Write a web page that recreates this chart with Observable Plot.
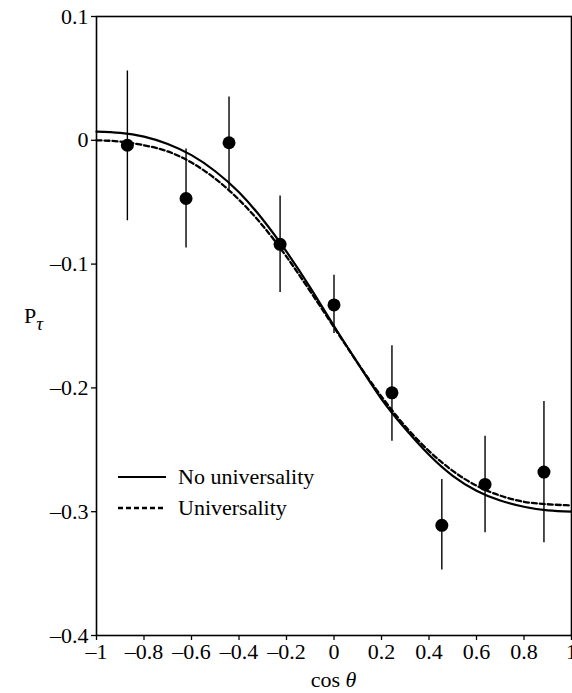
<!DOCTYPE html>
<html>
<head>
<meta charset="utf-8">
<script src="https://cdn.jsdelivr.net/npm/d3@7"></script>
<script src="https://cdn.jsdelivr.net/npm/@observablehq/plot@0.6"></script>
<style>
  html, body { margin: 0; padding: 0; background: #fff; }
  #wrap { position: relative; width: 572px; height: 693px; overflow: hidden; }
  #wrap svg text { font-size: 22px !important; font-family: 'Liberation Serif', 'DejaVu Serif', serif !important; }
  #wrap svg text.big { font-size: 22px !important; }
  #wrap svg tspan.sub { font-size: 19px !important; }
</style>
</head>
<body>
<div id="wrap"></div>
<script>
// ---- data ----
const xTicks = [-1, -0.8, -0.6, -0.4, -0.2, 0, 0.2, 0.4, 0.6, 0.8, 1];
const yTicks = [-0.4, -0.3, -0.2, -0.1, 0, 0.1];

const cosTheta = [-0.870, -0.623, -0.442, -0.227, 0.000, 0.244, 0.454, 0.636, 0.884];
const pTau     = [-0.004, -0.047, -0.002, -0.084, -0.133, -0.204, -0.311, -0.278, -0.268];
const errLow   = [-0.065, -0.087, -0.040, -0.123, -0.156, -0.243, -0.347, -0.317, -0.325];
const errHigh  = [ 0.056, -0.007,  0.035, -0.045, -0.109, -0.166, -0.274, -0.239, -0.211];

const curveX   = [-1, -0.9, -0.8, -0.7, -0.6, -0.5, -0.4, -0.3, -0.2, -0.1, 0, 0.1, 0.2, 0.3, 0.4, 0.5, 0.6, 0.7, 0.8, 0.9, 1];
const noUniv   = [0.007, 0.006, 0.003, -0.003, -0.012, -0.025, -0.042, -0.064, -0.090, -0.119, -0.150, -0.180, -0.209, -0.233, -0.254, -0.271, -0.283, -0.291, -0.296, -0.299, -0.300];
const univ     = [0.000, -0.001, -0.004, -0.009, -0.018, -0.031, -0.048, -0.069, -0.094, -0.122, -0.151, -0.180, -0.207, -0.231, -0.251, -0.267, -0.279, -0.287, -0.292, -0.294, -0.295];

const legendLabels = ["No universality", "Universality"];
const xLabel = ["cos ", "θ"];
const yLabel = ["P", "τ"];

// ---- tables ----
const points = cosTheta.map((x, i) => ({x, y: pTau[i], lo: errLow[i], hi: errHigh[i]}));
const lineNU = curveX.map((x, i) => ({x, y: noUniv[i]}));
const lineU  = curveX.map((x, i) => ({x, y: univ[i]}));

const fmt = d => d === 0 ? "0" : (d < 0 ? "\u2013" : "") + String(+Math.abs(d).toFixed(1));

const FONT = "'Liberation Serif', 'DejaVu Serif', serif";

const chart = Plot.plot({
  width: 572,
  height: 693,
  marginLeft: 96,
  marginRight: 1,
  marginTop: 16,
  marginBottom: 58,
  style: {fontFamily: FONT, fontSize: "22px", color: "#000", background: "#fff", overflow: "visible"},
  x: {domain: [-1, 1]},
  y: {domain: [-0.4, 0.1]},
  marks: [
    Plot.axisX({ticks: xTicks, tickFormat: fmt, tickSize: 5, tickPadding: 3, label: null, strokeWidth: 1.3}),
    Plot.axisY({ticks: yTicks, tickFormat: fmt, tickSize: 5, tickPadding: 3, label: null, strokeWidth: 1.3}),
    Plot.frame({stroke: "#000", strokeWidth: 1.6}),
    Plot.line(lineU, {x: "x", y: "y", curve: "natural", stroke: "#000", strokeWidth: 2.3, strokeDasharray: "5,3"}),
    Plot.line(lineNU, {x: "x", y: "y", curve: "natural", stroke: "#000", strokeWidth: 2.2}),
    Plot.ruleX(points, {x: "x", y1: "lo", y2: "hi", stroke: "#000", strokeWidth: 1.4}),
    Plot.dot(points, {x: "x", y: "y", r: 6.5, fill: "#000", stroke: "none"})
  ]
});

document.getElementById("wrap").appendChild(chart);

// axis titles placed with the chart's own scales
const sx = chart.scale("x"), sy = chart.scale("y");
const svg = d3.select(chart);

const xl = svg.append("text")
  .attr("x", sx.apply(0))
  .attr("y", 687)
  .attr("text-anchor", "middle")
  .attr("fill", "#000");
xl.append("tspan").text(xLabel[0]);
xl.append("tspan").style("font-style", "italic").text(xLabel[1]);

const yl = svg.append("text")
  .attr("class", "big")
  .attr("x", 24)
  .attr("y", sy.apply(-0.148))
  .attr("text-anchor", "start")
  .attr("fill", "#000");
yl.append("tspan").text(yLabel[0]);
yl.append("tspan").attr("class", "sub").attr("dy", 7).style("font-style", "italic").text(yLabel[1]);

// legend (inside plot, lower left)
const lg = svg.append("g").attr("transform", "translate(118,477)");
[0, 1].forEach(i => {
  const g = lg.append("g").attr("transform", `translate(0,${i * 31})`);
  g.append("line").attr("x1", 0).attr("x2", 48).attr("y1", 0).attr("y2", 0)
    .attr("stroke", "#000").attr("stroke-width", i === 0 ? 2.2 : 2.3)
    .attr("stroke-dasharray", i === 0 ? null : "5,3");
  g.append("text").attr("class", "big").attr("x", 60).attr("y", 0).attr("dy", "0.33em")
    .attr("text-anchor", "start")
    .attr("fill", "#000")
    .text(legendLabels[i]);
});
</script>
</body>
</html>
